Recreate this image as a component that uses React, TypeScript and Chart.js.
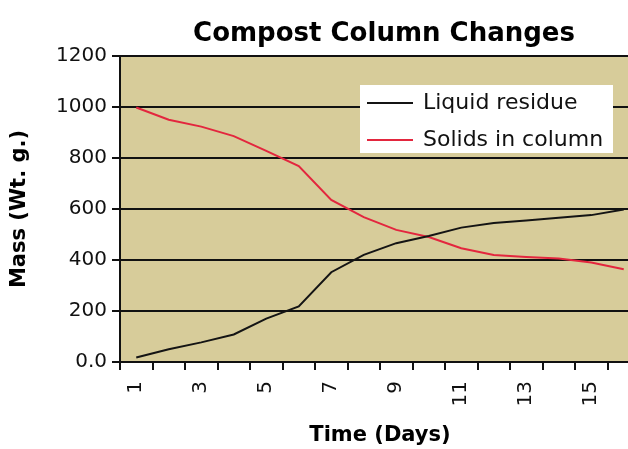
import React, { useEffect, useRef } from 'react';
import { Chart, registerables } from 'chart.js';

Chart.register(...registerables);

const days = ['1', '2', '3', '4', '5', '6', '7', '8', '9', '10', '11', '12', '13', '14', '15', '16'];
const liquidResidue = [18, 50, 77, 108, 170, 218, 352, 420, 466, 494, 527, 545, 555, 566, 576, 598];
const solidsInColumn = [998, 950, 923, 886, 828, 768, 636, 568, 518, 490, 446, 420, 412, 406, 390, 364];
const massTicks = [0, 200, 400, 600, 800, 1000, 1200];
const chartTitle = 'Compost Column Changes';
const xAxisTitle = 'Time (Days)';
const yAxisTitle = 'Mass (Wt. g.)';
const seriesLabels = ['Liquid residue', 'Solids in column'];
const seriesColors = ['#141414', '#e3263e'];
const plotBackground = '#d7cc9a';

const FONT = '"DejaVu Sans", "Liberation Sans", Arial, sans-serif';

export default function App() {
  const ref = useRef<HTMLCanvasElement>(null);

  useEffect(() => {
    const canvas = ref.current;
    if (!canvas) return;

    const plotBg = {
      id: 'plotBg',
      beforeDraw(chart: any) {
        const { ctx, chartArea } = chart;
        ctx.save();
        ctx.fillStyle = plotBackground;
        ctx.fillRect(chartArea.left, chartArea.top, chartArea.right - chartArea.left, chartArea.bottom - chartArea.top);
        ctx.restore();
      },
    };

    const titlePlugin = {
      id: 'centerTitle',
      afterDraw(chart: any) {
        const { ctx, chartArea } = chart;
        ctx.save();
        ctx.font = `bold 26px ${FONT}`;
        ctx.fillStyle = '#000';
        ctx.textAlign = 'center';
        ctx.textBaseline = 'alphabetic';
        ctx.fillText(chartTitle, chartArea.left + 264, 41);
        ctx.restore();
      },
    };

    const legendPlugin = {
      id: 'insideLegend',
      afterDatasetsDraw(chart: any) {
        const { ctx, chartArea } = chart;
        const bx = chartArea.left + 240;
        const by = chartArea.top + 29;
        ctx.save();
        ctx.fillStyle = '#ffffff';
        ctx.fillRect(bx, by, 253, 68);
        ctx.font = `22px ${FONT}`;
        ctx.textAlign = 'left';
        ctx.textBaseline = 'middle';
        chart.data.datasets.forEach((ds: any, i: number) => {
          const ry = by + 18 + i * 37;
          ctx.strokeStyle = ds.borderColor;
          ctx.lineWidth = 2;
          ctx.beginPath();
          ctx.moveTo(bx + 7, ry);
          ctx.lineTo(bx + 53, ry);
          ctx.stroke();
          ctx.fillStyle = '#111';
          ctx.fillText(ds.label, bx + 63, ry);
        });
        ctx.restore();
      },
    };

    const chart = new Chart(canvas, {
      type: 'line',
      data: {
        labels: days,
        datasets: [
          {
            label: seriesLabels[0],
            data: liquidResidue,
            borderColor: seriesColors[0],
            backgroundColor: seriesColors[0],
            borderWidth: 2,
            pointRadius: 0,
            tension: 0,
            fill: false,
          },
          {
            label: seriesLabels[1],
            data: solidsInColumn,
            borderColor: seriesColors[1],
            backgroundColor: seriesColors[1],
            borderWidth: 2,
            pointRadius: 0,
            tension: 0,
            fill: false,
          },
        ],
      },
      options: {
        responsive: false,
        animation: false,
        devicePixelRatio: 1,
        events: [],
        layout: { padding: { top: 56, right: 128, bottom: 0, left: 0 } },
        plugins: {
          legend: { display: false },
          title: { display: false },
          tooltip: { enabled: false },
        },
        scales: {
          x: {
            offset: true,
            grid: {
              display: true,
              offset: true,
              drawOnChartArea: false,
              drawTicks: true,
              tickLength: 8,
              color: '#111',
              lineWidth: 2,
            },
            border: { display: true, color: '#111', width: 2 },
            ticks: {
              autoSkip: false,
              maxRotation: 90,
              minRotation: 90,
              padding: 11,
              color: '#111',
              font: { family: FONT, size: 20 },
              callback: (_v: any, i: number) => (i % 2 === 0 ? days[i] : ''),
            },
            title: {
              display: true,
              text: xAxisTitle,
              color: '#000',
              font: { family: FONT, size: 21, weight: 'bold' },
              padding: { top: 0, bottom: 1 },
            },
            afterFit: (s: any) => {
              s.height = 87;
            },
          },
          y: {
            min: 0,
            max: 1200,
            afterBuildTicks: (s: any) => {
              s.ticks = massTicks.map((v) => ({ value: v }));
            },
            grid: { color: '#111', lineWidth: 2, tickLength: 8, drawTicks: true },
            border: { display: true, color: '#111', width: 2 },
            ticks: {
              padding: 5,
              color: '#111',
              font: { family: FONT, size: 20 },
              callback: (v: any) => (Number(v) === 0 ? '0.0' : String(v)),
            },
            title: {
              display: true,
              text: yAxisTitle,
              color: '#000',
              font: { family: FONT, size: 21, weight: 'bold' },
              padding: { top: 7, bottom: 0 },
            },
            afterFit: (s: any) => {
              s.width = 120;
            },
          },
        },
      } as any,
      plugins: [plotBg, titlePlugin, legendPlugin],
    });

    return () => chart.destroy();
  }, []);

  return (
    <div
      style={{
        position: 'fixed',
        left: 0,
        top: 0,
        width: 628,
        height: 449,
        overflow: 'hidden',
        background: '#fff',
      }}
    >
      <canvas ref={ref} width={768} height={449} style={{ display: 'block' }} />
    </div>
  );
}
